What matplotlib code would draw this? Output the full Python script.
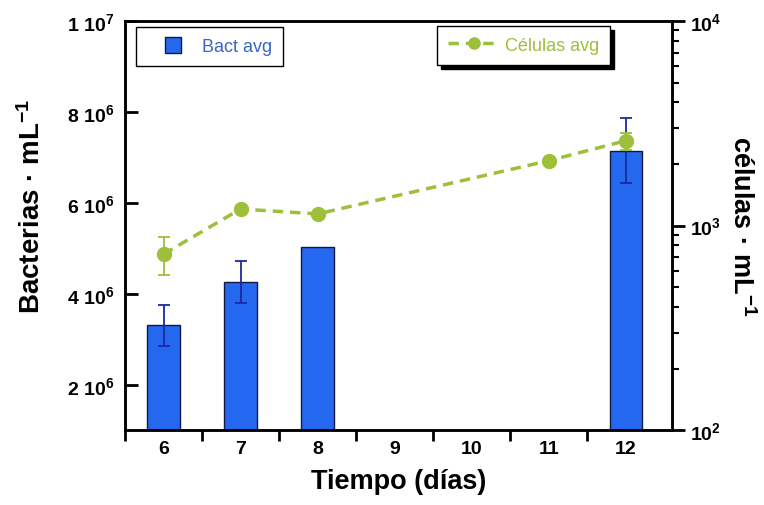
import numpy as np
import matplotlib
matplotlib.use('Agg')
import matplotlib.pyplot as plt
from matplotlib.lines import Line2D
from matplotlib.ticker import LogLocator, NullFormatter, FixedLocator, FixedFormatter

plt.rcParams['font.family'] = ['Liberation Sans', 'DejaVu Sans']
plt.rcParams['mathtext.fontset'] = 'custom'
plt.rcParams['mathtext.rm'] = 'Liberation Sans:bold'
plt.rcParams['mathtext.bf'] = 'Liberation Sans:bold'
plt.rcParams['mathtext.default'] = 'bf'

# data
day_labels = [6, 7, 8, 9, 10, 11, 12]
bact_days = [6, 7, 8, 12]
bact_avg = [3.31e6, 4.25e6, 5.02e6, 7.15e6]
bact_err = [0.45e6, 0.46e6, 0.0, 0.72e6]
cel_days = [6, 7, 8, 11, 12]
cel_avg = [725, 1205, 1140, 2075, 2600]
cel_err = [150, 0, 0, 0, 250]
left_ticks = [2e6, 4e6, 6e6, 8e6, 1e7]
left_labels = ['2 10$^{6}$', '4 10$^{6}$', '6 10$^{6}$', '8 10$^{6}$', '1 10$^{7}$']
right_ticks = [100, 1000, 10000]
right_labels = ['10$^{2}$', '10$^{3}$', '10$^{4}$']

blue = '#2468f0'
green = '#9dbf3a'

fig = plt.figure(figsize=(7.64, 5.06), dpi=100)
ax = fig.add_axes([0.1636, 0.148, 0.716, 0.8085])
ax2 = ax.twinx()

ax.bar(bact_days, bact_avg, width=0.42, color=blue, edgecolor='#101840', linewidth=1, zorder=2)
be = np.array(bact_err)
m = be > 0
ax.errorbar(np.array(bact_days)[m], np.array(bact_avg)[m], yerr=be[m], fmt='none',
            ecolor='#1a2aa0', elinewidth=1.3, capsize=4, capthick=1.3, zorder=3)
ax.set_xlim(5.5, 12.6)
ax.set_ylim(1e6, 1e7)
ax.set_yticks(left_ticks)
ax.set_yticklabels(left_labels)
ax.tick_params(axis='y', direction='in', length=9, width=2, labelsize=14, pad=8)
ax.set_xticks(day_labels)
ax.set_xticklabels([str(d) for d in day_labels], fontweight='bold')
ax.set_xticks(np.arange(5.5, 12.0, 1.0), minor=True)
ax.tick_params(axis='x', which='major', length=0, labelsize=14, pad=7)
ax.tick_params(axis='x', which='minor', direction='out', length=8, width=2)
for lbl in ax.get_yticklabels():
    lbl.set_fontweight('bold')
for sp in ax.spines.values():
    sp.set_linewidth(1.8)

ax.set_xlabel('Tiempo (días)', fontsize=19.5, fontweight='bold', labelpad=8)
ax.set_ylabel('Bacterias · mL$^{-1}$', fontsize=20, fontweight='bold')
ax.yaxis.set_label_coords(-0.145, 0.55)

ax2.set_yscale('log')
ce = np.array(cel_err)
ax2.plot(cel_days, cel_avg, 'o--', color=green, ms=10, lw=2.5, dashes=(3, 2), zorder=4)
mc = ce > 0
ax2.errorbar(np.array(cel_days)[mc], np.array(cel_avg)[mc], yerr=ce[mc], fmt='none',
             ecolor=green, elinewidth=1.3, capsize=4, capthick=1.3, zorder=4)
ax2.set_ylim(100, 1e4)
ax2.yaxis.set_major_locator(FixedLocator(right_ticks))
ax2.yaxis.set_major_formatter(FixedFormatter(right_labels))
ax2.yaxis.set_minor_locator(LogLocator(base=10, subs=np.arange(2, 10)))
ax2.yaxis.set_minor_formatter(NullFormatter())
ax2.tick_params(axis='y', which='major', direction='out', length=9, width=2, labelsize=14, pad=4)
ax2.tick_params(axis='y', which='minor', direction='out', length=5, width=1.5)
for lbl in ax2.get_yticklabels():
    lbl.set_fontweight('bold')
ax2.set_ylabel('células · mL$^{-1}$', fontsize=19.5, fontweight='bold', rotation=270, labelpad=24)
for sp in ax2.spines.values():
    sp.set_linewidth(1.8)

h1 = Line2D([], [], marker='s', ls='none', ms=11, mfc=blue, mec='#101840')
leg1 = ax.legend([h1], ['Bact avg'], loc='upper left', bbox_to_anchor=(0.02, 0.985),
                 fancybox=False, edgecolor='black', framealpha=1, fontsize=13,
                 labelcolor='#3a64c8', borderpad=0.6, handletextpad=0.15,
                 borderaxespad=0, handlelength=2.9)
leg1.get_frame().set_linewidth(1)
h2 = Line2D([], [], marker='o', ls='--', dashes=(3, 2), lw=2.5, ms=8, color=green)
leg2 = ax2.legend([h2], ['Células avg'], loc='upper left', bbox_to_anchor=(0.570, 0.988),
                  fancybox=False, edgecolor='black', framealpha=1, fontsize=13,
                  labelcolor=green, shadow={'color': 'black', 'alpha': 1, 'ox': 3, 'oy': -3},
                  borderpad=0.6, handletextpad=0.28, borderaxespad=0, handlelength=2.9)
leg2.get_frame().set_linewidth(1)

plt.savefig('out.png', dpi=100)
